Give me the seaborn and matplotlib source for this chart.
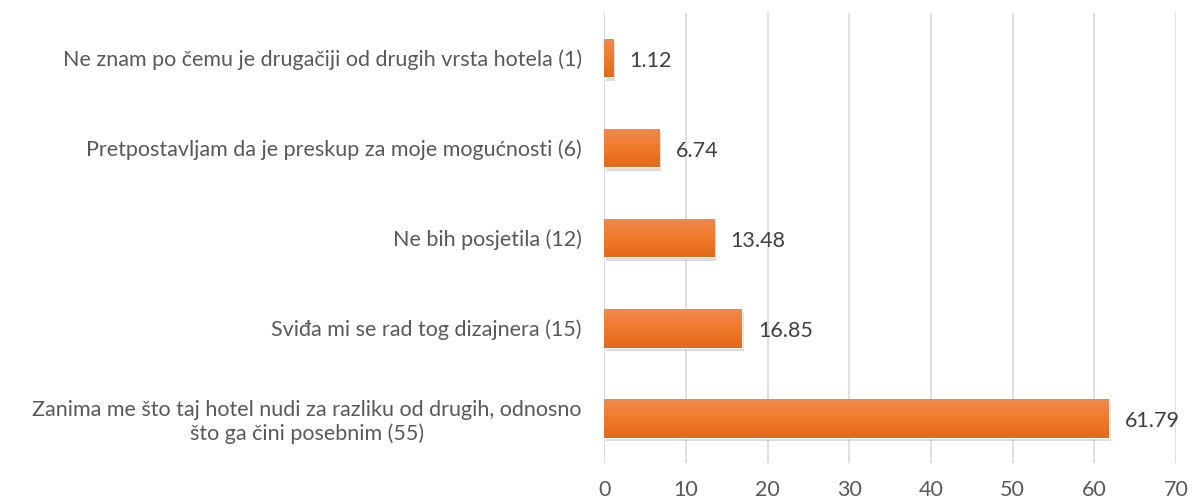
import numpy as np
import pandas as pd
import seaborn as sns
import matplotlib.pyplot as plt
import matplotlib.patheffects as pe
from matplotlib.colors import LinearSegmentedColormap

# Podaci s grafa
kategorije = [
    "Ne znam po čemu je drugačiji od drugih vrsta hotela (1)",
    "Pretpostavljam da je preskup za moje mogućnosti (6)",
    "Ne bih posjetila (12)",
    "Sviđa mi se rad tog dizajnera (15)",
    "Zanima me što taj hotel nudi za razliku od drugih, odnosno\nšto ga čini posebnim (55)",
]
postotci = [1.12, 6.74, 13.48, 16.85, 61.79]
x_ticks = [0, 10, 20, 30, 40, 50, 60, 70]

df = pd.DataFrame({"odgovor": kategorije, "postotak": postotci})

sns.set_theme(style="white")
plt.rcParams['font.family'] = ['Lato', 'DejaVu Sans']

fig, ax = plt.subplots(figsize=(11.94, 5.04), dpi=100)
fig.subplots_adjust(left=0.506, right=0.985, top=0.974, bottom=0.081)

sns.barplot(data=df, y="odgovor", x="postotak", color="#EE7A2C", saturation=1,
            width=0.43, ax=ax, zorder=3)

# gradijent kao u Excelu (svjetlije gore, tamnije dolje)
gradijent = LinearSegmentedColormap.from_list("narancasta", ["#F1894F", "#F07A2A", "#E4681A"])
grad = np.linspace(0, 1, 64).reshape(-1, 1)
for p in ax.patches:
    p.set_path_effects([pe.SimplePatchShadow(offset=(1.5, -2.5), shadow_rgbFace="#b0b0b0", alpha=0.45),
                        pe.Normal()])
    x0, y0 = p.get_x(), p.get_y()
    w, h = p.get_width(), p.get_height()
    im = ax.imshow(grad, cmap=gradijent, aspect="auto", origin="upper",
                   extent=(x0, x0 + w, y0 + h, y0), zorder=4)
    im.set_clip_path(p)

for i, v in enumerate(postotci):
    ax.text(v + 2.0, i + 0.03, f"{v:.2f}", va="center", ha="left", fontsize=15.5, color="#404040")

ax.set_xlim(0, 70)
ax.set_ylim(len(kategorije) - 0.5, -0.5)
ax.set_xticks(x_ticks)
ax.xaxis.grid(True, color="#D9D9D9", linewidth=1.2, zorder=0)
ax.set_axisbelow(True)
ax.set_xlabel("")
ax.set_ylabel("")
sns.despine(ax=ax, left=True, bottom=True)
ax.tick_params(axis="x", labelsize=15.5, labelcolor="#595959", length=0, pad=12)
ax.tick_params(axis="y", labelsize=15.5, labelcolor="#595959", length=0, pad=16)

# centriranje višerednog natpisa
fig.canvas.draw()
for t in ax.yaxis.get_major_ticks():
    t.label1.set_multialignment("center")

plt.savefig("out.png", dpi=100)
